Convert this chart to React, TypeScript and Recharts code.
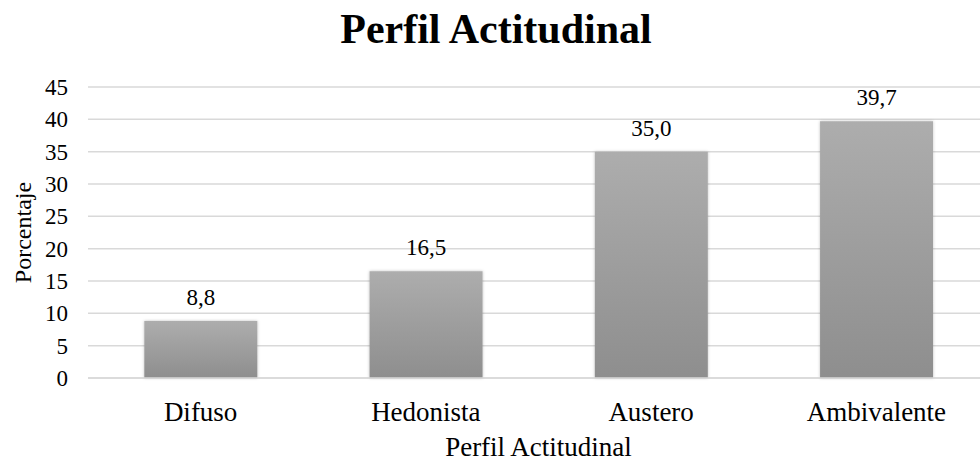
import React from 'react';
import { BarChart, Bar, XAxis, YAxis, CartesianGrid, LabelList } from 'recharts';

const categories = ['Difuso', 'Hedonista', 'Austero', 'Ambivalente'];
const percentages = [8.8, 16.5, 35.0, 39.7];
const yTicks = [0, 5, 10, 15, 20, 25, 30, 35, 40, 45];

const data = categories.map((name, i) => ({ name, value: percentages[i] }));

const font = '"Liberation Serif", "Times New Roman", serif';

const App: React.FC = () => {
  return (
    <div style={{ position: 'absolute', left: 0, top: 0, width: 980, height: 463, overflow: 'hidden', background: '#fff' }}>
      <div
        style={{
          position: 'absolute',
          left: 6,
          top: 4,
          width: 980,
          textAlign: 'center',
          fontFamily: font,
          fontWeight: 'bold',
          fontSize: 42,
          lineHeight: '50px',
          color: '#000',
        }}
      >
        Perfil Actitudinal
      </div>
      <BarChart
        width={1000}
        height={463}
        data={data}
        margin={{ top: 87, right: 11, bottom: 0, left: 0 }}
        barCategoryGap="25%"
      >
        <defs>
          <linearGradient id="barGrad" x1="0" y1="0" x2="0" y2="1">
            <stop offset="0%" stopColor="#adadad" />
            <stop offset="100%" stopColor="#8e8e8e" />
          </linearGradient>
          <filter id="barShadow" x="-10%" y="-10%" width="120%" height="120%">
            <feDropShadow dx="0" dy="0" stdDeviation="1.5" floodColor="#000" floodOpacity="0.25" />
          </filter>
        </defs>
        <CartesianGrid vertical={false} stroke="#d9d9d9" strokeWidth={1.5} />
        <XAxis
          dataKey="name"
          axisLine={{ stroke: '#d9d9d9', strokeWidth: 1.5 }}
          tickLine={false}
          tick={{ fontFamily: font, fontSize: 27, fill: '#000' }}
          tickMargin={18}
          height={85}
          label={{ value: 'Perfil Actitudinal', position: 'insideBottom', offset: 7, fontFamily: font, fontSize: 27, fill: '#000' }}
        />
        <YAxis
          domain={[0, 45]}
          ticks={yTicks}
          interval={0}
          axisLine={false}
          tickLine={false}
          width={88}
          tickMargin={14}
          tick={{ fontFamily: font, fontSize: 23, fill: '#000' }}
          label={{ value: 'Porcentaje', angle: -90, position: 'insideLeft', offset: 22, fontFamily: font, fontSize: 24, fill: '#000', style: { textAnchor: 'middle' } }}
        />
        <Bar dataKey="value" fill="url(#barGrad)" filter="url(#barShadow)" isAnimationActive={false}>
          <LabelList
            dataKey="value"
            position="top"
            offset={16}
            formatter={(v: number) => v.toFixed(1).replace('.', ',')}
            style={{ fontFamily: font, fontSize: 23, fill: '#000' }}
          />
        </Bar>
      </BarChart>
    </div>
  );
};

export default App;
